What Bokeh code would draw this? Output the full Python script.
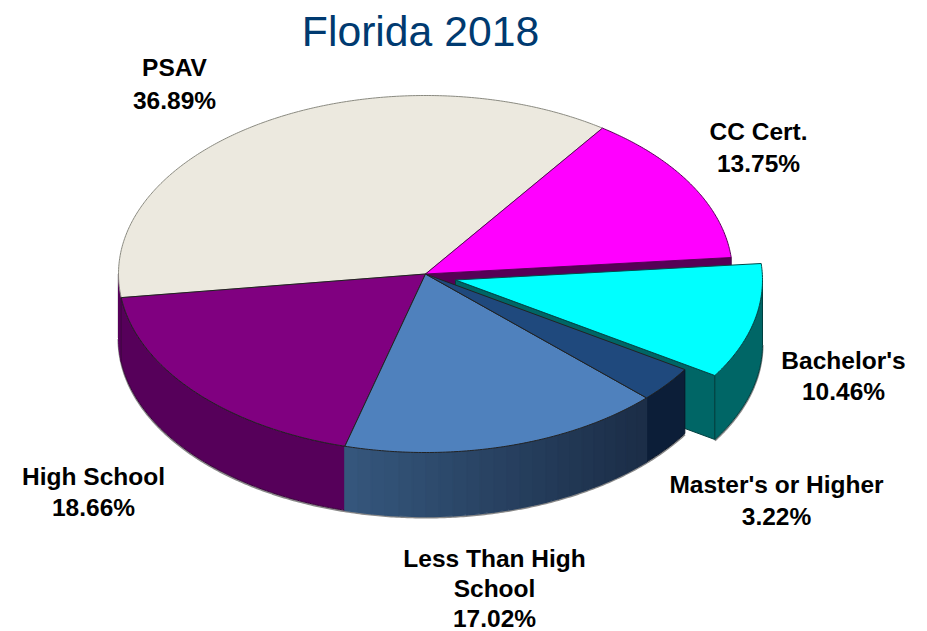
import numpy as np
from bokeh.plotting import figure
from bokeh.embed import file_html
from bokeh.resources import INLINE
from bokeh.core.properties import value

# data, clockwise from the CC / PSAV boundary
categories = ["CC Cert.", "Bachelor's", "Master's or Higher", "Less Than High School", "High School", "PSAV"]
shares = [13.75, 10.46, 3.22, 17.02, 18.66, 36.89]
top_colors = ["#FF00FF", "#00FFFF", "#1F497D", "#4F81BD", "#800080", "#ECE9DF"]
side_colors = ["#560056", "#006666", "#0C1E38", "#2A4565", "#56005A", "#9E9C95"]
exploded = [False, True, False, False, False, False]

label_lines = [["CC Cert."], ["Bachelor's"], ["Master's or Higher"], ["Less Than High", "School"], ["High School"], ["PSAV"]]
label_x = [[758, 758], [843, 843], [776, 776], [494, 494, 494], [93, 93], [174, 174]]
label_y = [[131, 163], [360, 391], [484, 516], [558, 588, 618], [476, 507], [67, 100]]

CX, CY, RX, RY, DEPTH = 425.0, 273.5, 307.0, 178.5, 64.0
START = 54.8
EXPLODE_DX, EXPLODE_DY = 30.0, 6.0

p = figure(width=927, height=631, x_range=(0, 927), y_range=(631, 0),
           output_backend="svg", toolbar_location=None, min_border=0)
p.axis.visible = False
p.grid.visible = False
p.outline_line_color = None
p.background_fill_color = "white"


def rim(a0, a1, cx, cy, dy=0.0, n=None):
    n = n or max(2, int(abs(a1 - a0)) * 2 + 2)
    t = np.radians(np.linspace(a0, a1, n))
    return cx + RX * np.cos(t), cy - RY * np.sin(t) + dy


def rim_band(a0, a1, cx, cy, color, line):
    x0, y0 = rim(a0, a1, cx, cy)
    x1, y1 = rim(a1, a0, cx, cy, DEPTH)
    p.patch(np.r_[x0, x1], np.r_[y0, y1], fill_color=color, line_color=line, line_width=1)


def cut_face(a, cx, cy, color, line):
    x, y = rim(a, a, cx, cy, n=1)
    p.patch([cx, x[0], x[0], cx], [cy, y[0], y[0] + DEPTH, cy + DEPTH],
            fill_color=color, line_color=line, line_width=1)


def top_face(a0, a1, cx, cy, color, line="#333333"):
    x, y = rim(a0, a1, cx, cy)
    p.patch(np.r_[cx, x], np.r_[cy, y], fill_color=color, line_color=line, line_width=1)


ends = START - np.cumsum(shares) * 3.6
starts = np.r_[START, ends[:-1]]

# back parts: the faces opened by the pulled-out slice
cc, bach, mast, less, high, psav = range(6)
cut_face(starts[bach], CX, CY, side_colors[cc], "#400040")

# the pulled-out slice
ex, ey = CX + EXPLODE_DX, CY + EXPLODE_DY
cut_face(ends[bach], ex, ey, side_colors[bach], "#003F3F")
x_o, y_o = rim(0, ends[bach], ex, ey, DEPTH)
p.line(x_o, y_o + 1, line_color="#888888", line_width=2)
rim_band(0, ends[bach], ex, ey, side_colors[bach], "#003F3F")
top_face(starts[bach], ends[bach], ex, ey, top_colors[bach], "#004A4A")

# grey silhouette beneath the main pie
x_o, y_o = rim(starts[mast], -180, CX, CY, DEPTH)
p.line(x_o, y_o + 1, line_color="#888888", line_width=2)
p.line([CX - RX, CX - RX], [CY, CY + DEPTH], line_color="#888888", line_width=1.5)

# main pie sides
rim_band(starts[mast], ends[mast], CX, CY, side_colors[mast], "#081428")
rim_band(ends[high], -180, CX, CY, side_colors[high], "#56005A")
rim_band(starts[high], ends[high], CX, CY, side_colors[high], "#3A003C")

# gradient on the Less Than High School side
c_left, c_right = np.array([0x36, 0x58, 0x7E]), np.array([0x1C, 0x2E, 0x48])
a0, a1 = ends[less], starts[less]
edges = np.linspace(a0, a1, 25)
for i in range(24):
    xa, ya = rim(edges[i], edges[i + 1], CX, CY, n=3)
    xb, yb = rim(edges[i + 1], edges[i], CX, CY, DEPTH, n=3)
    mix = min(1.0, ((xa[0] - (CX - 90)) / 300.0))
    col = c_left + (c_right - c_left) * mix
    hexc = "#%02X%02X%02X" % tuple(int(v) for v in col)
    p.patch(np.r_[xa, xb], np.r_[ya, yb], fill_color=hexc, line_color=hexc, line_width=1.4)

# main pie tops
for i in [psav, cc, high, less, mast]:
    line = "#8A8A80" if i == psav else ("#222222" if i != cc else "#5A005A")
    top_face(starts[i], ends[i], CX, CY, top_colors[i], line)

# title and labels
p.text([420], [30], text=["Florida 2018"], text_font=value("Liberation Sans"), text_font_size="42.7px",
       text_color="#003A70", text_align="center", text_baseline="middle")

for lines, xs, ys, share in zip(label_lines, label_x, label_y, shares):
    rows = lines + [f"{share:.2f}%"]
    p.text(xs, ys, text=rows, text_font=value("Liberation Sans"), text_font_style="bold",
           text_font_size="24.5px", text_color="#000000", text_align="center", text_baseline="middle")

open("out.html", "w").write(file_html(p, INLINE))
